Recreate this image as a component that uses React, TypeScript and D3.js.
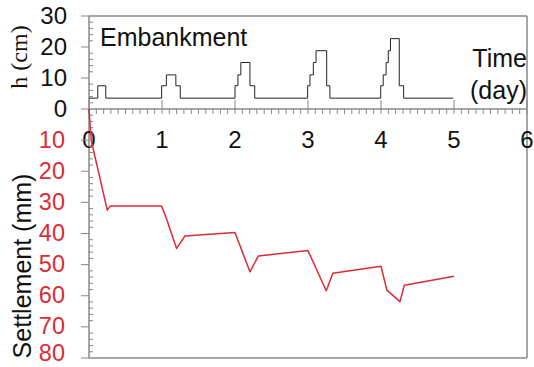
import React from "react";
import * as d3 from "d3";

const W = 534;
const H = 367;

// Embankment height (cm), step after each time (day)
const embTime = [0, 0.12, 0.23, 0.995, 1.06, 1.19, 1.25, 2.0, 2.04, 2.08, 2.205, 2.27, 2.995, 3.027, 3.073, 3.11, 3.256, 3.30, 3.996, 4.03, 4.07, 4.10, 4.13, 4.25, 4.31, 4.99];
const embHeight = [3.5, 7.5, 3.5, 7.5, 11, 7.5, 3.5, 7.5, 11, 15, 7.5, 3.5, 7.5, 11, 15, 18.8, 7.5, 3.5, 7.5, 11, 15, 18.8, 22.7, 7.5, 3.5, 3.5];

// Settlement (mm)
const setTime = [0, 0.03, 0.25, 0.29, 0.995, 1.06, 1.2, 1.315, 2.0, 2.205, 2.32, 3.0, 3.25, 3.34, 4.0, 4.08, 4.26, 4.32, 5.0];
const setValue = [0, 10, 32.5, 31.2, 31.2, 35.2, 44.8, 40.8, 39.7, 52.3, 47.2, 45.5, 58.4, 52.8, 50.5, 58.2, 61.9, 56.6, 53.7];

const xTicks = [0, 1, 2, 3, 4, 5, 6];
const hTicks = [0, 10, 20, 30];
const sTicks = [10, 20, 30, 40, 50, 60, 70, 80];

const FONT = "'Liberation Sans', Arial, sans-serif";
const RED = "#dd2a35";
const AXIS = "#888";

export default function App() {
  const x = d3.scaleLinear().domain([0, 6]).range([89, 527]);
  const yH = d3.scaleLinear().domain([0, 30]).range([109, 16]);
  const yS = d3.scaleLinear().domain([0, 80]).range([109, 358]);

  const embLine = d3
    .line<number>()
    .x((_, i) => x(embTime[i]))
    .y((d) => yH(d))
    .curve(d3.curveStepAfter);
  const setLine = d3
    .line<number>()
    .x((_, i) => x(setTime[i]))
    .y((d) => yS(d));

  const xMinor = d3.range(0, 60).map((i) => i / 10).filter((v) => Math.abs(v - Math.round(v)) > 1e-6);
  const hMinor = d3.range(0, 30, 2).filter((v) => v % 10 !== 0);
  const sMinor = d3.range(0, 80, 2).filter((v) => v % 10 !== 0);

  return (
    <svg width={W} height={H} style={{ position: "absolute", left: 0, top: 0, background: "#fff" }}>
      {/* frame */}
      <line x1={x(0)} x2={x(6)} y1={yH(30)} y2={yH(30)} stroke={AXIS} strokeWidth={1.5} />
      <line x1={x(6)} x2={x(6)} y1={yH(30)} y2={yS(80)} stroke={AXIS} strokeWidth={1.5} />
      <line x1={x(0)} x2={x(6)} y1={yS(80)} y2={yS(80)} stroke={AXIS} strokeWidth={1.5} />
      <line x1={x(0)} x2={x(0)} y1={yH(30)} y2={yS(80)} stroke={AXIS} strokeWidth={1.5} />
      {/* time axis */}
      <line x1={x(0)} x2={x(6)} y1={yH(0)} y2={yH(0)} stroke={AXIS} strokeWidth={1.5} />
      {xMinor.map((v) => (
        <line key={"xm" + v} x1={x(v)} x2={x(v)} y1={yH(0)} y2={yH(0) + 5} stroke={AXIS} strokeWidth={1} />
      ))}
      {xTicks.map((v) => (
        <line key={"xM" + v} x1={x(v)} x2={x(v)} y1={yH(0) - 9} y2={yH(0) + 5} stroke={AXIS} strokeWidth={1} />
      ))}
      {xTicks.map((v) => (
        <text key={"xl" + v} x={x(v)} y={148} textAnchor="middle" fontFamily={FONT} fontSize={24} fill="#111">
          {v}
        </text>
      ))}
      {/* h axis */}
      {hMinor.map((v) => (
        <line key={"hm" + v} x1={x(0)} x2={x(0) + 4} y1={yH(v)} y2={yH(v)} stroke={AXIS} strokeWidth={1} />
      ))}
      {hTicks.map((v) => (
        <line key={"hM" + v} x1={x(0) - 8} x2={x(0)} y1={yH(v)} y2={yH(v)} stroke={AXIS} strokeWidth={1} />
      ))}
      {hTicks.map((v) => (
        <text key={"hl" + v} x={67} y={yH(v)} dy="0.35em" textAnchor="end" fontFamily={FONT} fontSize={24} fill="#111">
          {v}
        </text>
      ))}
      {/* settlement axis */}
      {sMinor.map((v) => (
        <line key={"sm" + v} x1={x(0)} x2={x(0) + 4} y1={yS(v)} y2={yS(v)} stroke={AXIS} strokeWidth={1} />
      ))}
      {sTicks.map((v) => (
        <text key={"sl" + v} x={65} y={Math.min(yS(v) + 7.5, 361)} textAnchor="end" fontFamily={FONT} fontSize={23.5} fill={RED}>
          {v}
        </text>
      ))}
      {sTicks.map((v) => (
        <line key={"sM" + v} x1={x(0) - 8} x2={x(0)} y1={yS(v)} y2={yS(v)} stroke={AXIS} strokeWidth={1} />
      ))}
      {/* data */}
      <path d={embLine(embHeight) || ""} fill="none" stroke="#222" strokeWidth={1} />
      <path d={setLine(setValue) || ""} fill="none" stroke={RED} strokeWidth={1.5} strokeLinejoin="round" />
      {/* labels */}
      <text x={100} y={46} fontFamily={FONT} fontSize={25} fill="#111">Embankment</text>
      <text x={527} y={67} textAnchor="end" fontFamily={FONT} fontSize={25} fill="#111">Time</text>
      <text x={527} y={99} textAnchor="end" fontFamily={FONT} fontSize={25} fill="#111">(day)</text>
      <text
        transform="translate(27,57) rotate(-90)"
        textAnchor="middle"
        fontFamily="'Liberation Serif', 'Times New Roman', serif"
        fontSize={24}
        fill="#111"
      >
        h (cm)
      </text>
      <text transform="translate(31,266) rotate(-90)" textAnchor="middle" fontFamily={FONT} fontSize={25} fill="#111">
        Settlement (mm)
      </text>
    </svg>
  );
}
